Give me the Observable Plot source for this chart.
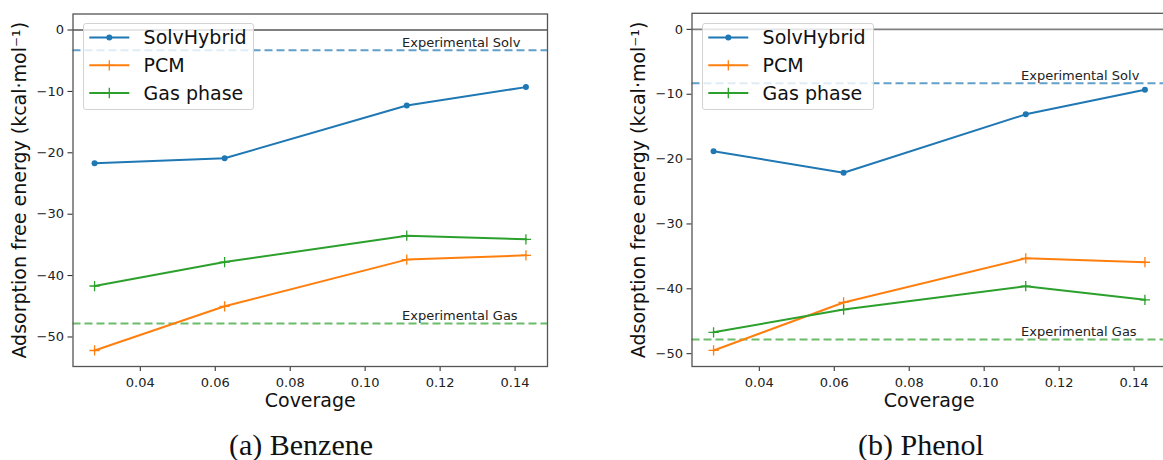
<!DOCTYPE html>
<html><head><meta charset="utf-8">
<script src="https://cdn.jsdelivr.net/npm/d3@7"></script>
<script src="https://cdn.jsdelivr.net/npm/@observablehq/plot@0.6"></script>
<style>
body{margin:0;background:#fff;}
#fig{position:relative;width:1163px;height:460px;overflow:hidden;font-family:"DejaVu Sans",sans-serif;}
#fig svg.panel{position:absolute;top:0;}
</style></head><body><div id="fig"></div>
<script>
// ---- data ----
const coverage = [0.0278, 0.0625, 0.1111, 0.1429];
const seriesNames = ["SolvHybrid", "PCM", "Gas phase"];
const benzeneSolvHybrid = [-21.7, -20.9, -12.3, -9.3];
const benzenePCM = [-52.2, -45.0, -37.4, -36.7];
const benzeneGas = [-41.7, -37.8, -33.5, -34.1];
const benzeneExp = [-3.3, -47.8];
const phenolSolvHybrid = [-18.8, -22.1, -13.1, -9.3];
const phenolPCM = [-49.5, -42.1, -35.3, -35.9];
const phenolGas = [-46.7, -43.2, -39.6, -41.7];
const phenolExp = [-8.3, -47.8];
const expLabels = ["Experimental Solv", "Experimental Gas"];
const expSeries = ["SolvHybrid", "Gas phase"];
const xTicks = [0.04, 0.06, 0.08, 0.10, 0.12, 0.14];
const yTicks = [0, -10, -20, -30, -40, -50];
const captions = ["(a) Benzene", "(b) Phenol"];
const yLabel = "Adsorption free energy (kcal·mol⁻¹)";
const xLabel = "Coverage";
const colors = ["#1f77b4", "#ff7f0e", "#2ca02c"];

const fig = d3.select("#fig");

function panel(vals, exp, marginTop, left) {
  const rows = [];
  seriesNames.forEach((s, i) => coverage.forEach((c, j) => rows.push({series: s, x: c, y: vals[i][j]})));
  const refs = exp.map((v, i) => ({y: v, label: expLabels[i], series: expSeries[i]}));
  const xr = d3.extent(coverage), xm = (xr[1] - xr[0]) * 0.05;
  const yr = d3.extent(rows.map(d => d.y).concat([0])), ym = (yr[1] - yr[0]) * 0.05;
  const svg = Plot.plot({
    width: 600, height: 420,
    marginLeft: 72.5, marginRight: 53, marginTop, marginBottom: 54,
    style: {fontFamily: "DejaVu Sans", fontSize: "13px", color: "#222", background: "transparent", overflow: "visible"},
    x: {domain: [xr[0] - xm, xr[1] + xm]},
    y: {domain: [yr[0] - ym, yr[1] + ym]},
    color: {domain: seriesNames, range: colors},
    marks: [
      Plot.ruleY(refs, {y: "y", stroke: "series", strokeWidth: 2, strokeOpacity: 0.7, strokeDasharray: "8,4"}),
      Plot.ruleY([0], {stroke: "#808080", strokeWidth: 1.8}),
      Plot.text(refs, {y: "y", text: "label", frameAnchor: "right", textAnchor: "start", lineAnchor: "bottom", dx: -145.5, dy: -3, fontSize: 13, fill: "#222"}),
      Plot.line(rows, {x: "x", y: "y", z: "series", stroke: "series", strokeWidth: 2}),
      Plot.dot(rows.filter(d => d.series === seriesNames[0]), {x: "x", y: "y", r: 3, fill: "series", stroke: null}),
      Plot.dot(rows.filter(d => d.series !== seriesNames[0]), {x: "x", y: "y", r: 3.4, symbol: "plus", stroke: "series", strokeWidth: 1.3}),
      Plot.axisX({ticks: xTicks, tickFormat: d3.format(".2f"), tickSize: 5, tickPadding: 6, label: null, fontSize: 13}),
      Plot.axisY({ticks: yTicks, tickFormat: d3.format("d"), tickSize: 5, tickPadding: 4, label: null, fontSize: 13}),
      Plot.frame({stroke: "#555", strokeWidth: 1.3}),
      Plot.text([yLabel], {frameAnchor: "left", textAnchor: "middle", lineAnchor: "middle", rotate: -90, dx: -53, fontSize: 19, text: d => d, fill: "#111"}),
      Plot.text([xLabel], {frameAnchor: "bottom", textAnchor: "middle", dy: 40, lineAnchor: "bottom", fontSize: 19, text: d => d, fill: "#111"})
    ]
  });
  svg.classList.add("panel");
  svg.style.left = left + "px";
  fig.node().appendChild(svg);
}

function legend(left, top) {
  const W = 171.5, H = 87.5;
  const div = fig.append("div")
    .style("position", "absolute").style("left", left + "px").style("top", top + "px")
    .style("width", W + "px").style("height", H + "px").style("box-sizing", "border-box")
    .style("background", "rgba(255,255,255,0.8)").style("border", "1px solid #d3d3d3").style("border-radius", "3px");
  const svg = div.append("svg").attr("width", W).attr("height", H)
    .style("position", "absolute").style("left", "-1px").style("top", "-1px").style("overflow", "visible");
  seriesNames.forEach((s, i) => {
    const y = 14.6 + i * 27.7;
    svg.append("line").attr("x1", 6.3).attr("x2", 46.3).attr("y1", y).attr("y2", y)
      .attr("stroke", colors[i]).attr("stroke-width", 2);
    if (i === 0) {
      svg.append("circle").attr("cx", 26.3).attr("cy", y).attr("r", 3).attr("fill", colors[i]);
    } else {
      svg.append("path").attr("transform", `translate(26.3,${y})`)
        .attr("d", d3.symbol(d3.symbolPlus, 3.4 * 3.4 * Math.PI)())
        .attr("fill", "none").attr("stroke", colors[i]).attr("stroke-width", 1.3);
    }
    svg.append("text").attr("x", 60.6).attr("y", y).attr("dy", "0.35em")
      .attr("font-family", "DejaVu Sans").attr("font-size", 19).attr("fill", "#111").text(s);
  });
}

panel([benzeneSolvHybrid, benzenePCM, benzeneGas], benzeneExp, 13.5, 0);
panel([phenolSolvHybrid, phenolPCM, phenolGas], phenolExp, 12.8, 619.4);
legend(82.7, 22.7);
legend(702.1, 22.7);

const cap = fig.append("svg").attr("width", 1163).attr("height", 460)
  .style("position", "absolute").style("left", 0).style("top", 0).style("pointer-events", "none");
[301, 921].forEach((cx, i) => {
  cap.append("text").attr("x", cx).attr("y", 455).attr("text-anchor", "middle")
    .attr("font-family", "Liberation Serif").attr("font-size", 30).attr("fill", "#111").text(captions[i]);
});
</script>
</body></html>
